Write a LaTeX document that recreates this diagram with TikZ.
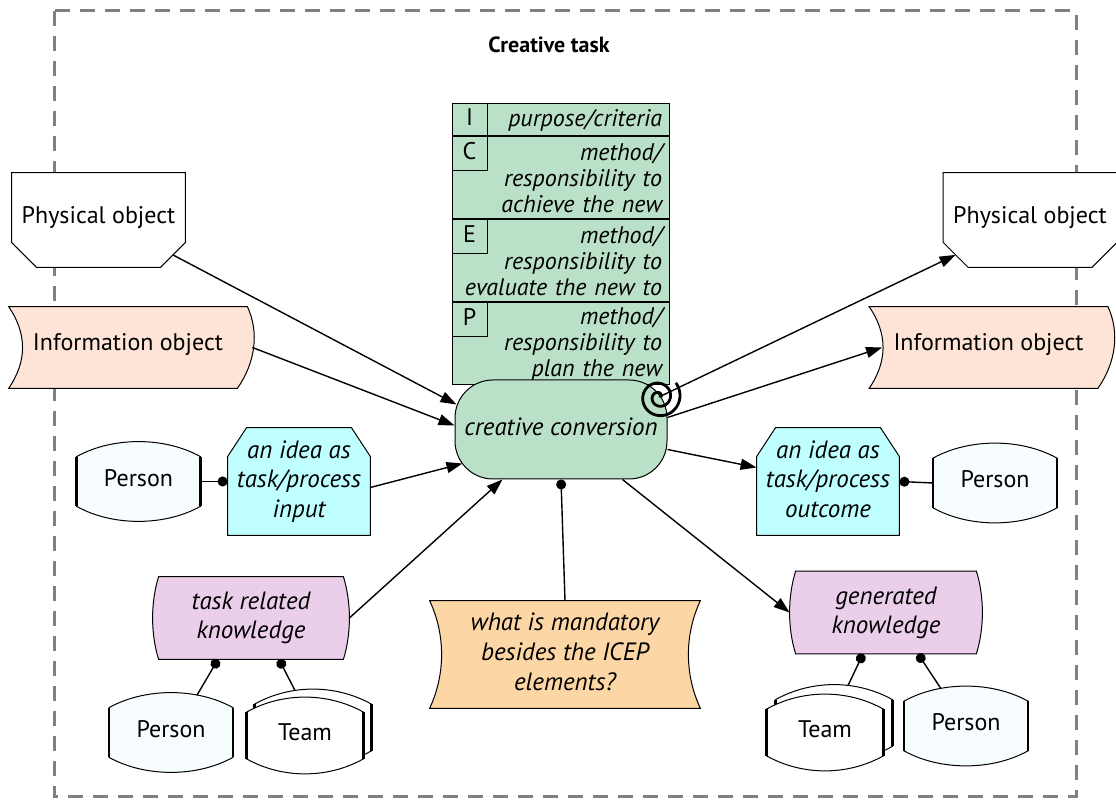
\documentclass[tikz,border=0pt]{standalone}
\usepackage{fontspec}
\setmainfont{PT Sans}
\usetikzlibrary{positioning,calc,arrows.meta,backgrounds}

\definecolor{icepgreen}{RGB}{186,224,199}
\definecolor{infofill}{RGB}{253,228,214}
\definecolor{ideafill}{RGB}{191,255,255}
\definecolor{knowfill}{RGB}{234,206,234}
\definecolor{goalfill}{RGB}{253,214,166}
\definecolor{personfill}{RGB}{247,252,255}
\definecolor{framegray}{RGB}{128,128,128}

% outlines, built from the anchors of a plain rectangular node
\newcommand\physobj[1]{%
  \filldraw[outline, fill=white] (#1.north west) -- (#1.north east)
    -- ([yshift=12.5pt]#1.south east) -- ([xshift=-12.5pt]#1.south east)
    -- ([xshift=12.5pt]#1.south west) -- ([yshift=12.5pt]#1.south west) -- cycle;}
\newcommand\ideaobj[1]{%
  \filldraw[outline, fill=ideafill] (#1.south west) -- ([yshift=-14.5pt]#1.north west)
    -- ([xshift=9.5pt]#1.north west) -- ([xshift=-9.5pt]#1.north east)
    -- ([yshift=-14.5pt]#1.north east) -- (#1.south east) -- cycle;}
\newcommand\infoobj[1]{%
  \filldraw[outline, fill=infofill] (#1.north west) -- (#1.north east)
    .. controls +(6pt,-13pt) and +(9pt,13pt) .. ([xshift=-5pt]#1.south east)
    -- (#1.south west)
    .. controls +(9.3pt,13.5pt) and +(9.3pt,-13.5pt) .. (#1.north west) -- cycle;}
\newcommand\knowobj[1]{%
  \filldraw[outline, fill=knowfill] (#1.north west) -- (#1.north east)
    .. controls +(4pt,-13pt) and +(4pt,13pt) .. (#1.south east)
    -- (#1.south west)
    .. controls +(-4pt,13pt) and +(-4pt,-13pt) .. (#1.north west) -- cycle;}
\newcommand\goalobj[1]{%
  \filldraw[outline, fill=goalfill] (#1.north west) -- (#1.north east)
    .. controls +(-8pt,-17pt) and +(-8pt,17pt) .. (#1.south east)
    -- (#1.south west)
    .. controls +(8pt,17pt) and +(8pt,-17pt) .. (#1.north west) -- cycle;}
\newcommand\personobj[2]{%
  \filldraw[outline, fill=#2] ([yshift=-7.5pt]#1.north west)
    .. controls +(18pt,10pt) and +(-18pt,10pt) .. ([yshift=-7.5pt]#1.north east)
    -- ([yshift=7.5pt]#1.south east)
    .. controls +(-18pt,-10pt) and +(18pt,-10pt) .. ([yshift=7.5pt]#1.south west) -- cycle;
  \draw[line width=1.2pt] ([yshift=-7.5pt]#1.north west) -- ([yshift=7.5pt]#1.south west)
    ([yshift=-7.5pt]#1.north east) -- ([yshift=7.5pt]#1.south east);}

\begin{document}
\begin{tikzpicture}[
    x=0.5pt, y=-0.5pt,
    outline/.style={draw, line width=0.5pt},
    base/.style={inner sep=0pt, align=center, font=\fontsize{12}{14.5}\selectfont},
    physbox/.style={base, minimum width=86.5pt, minimum height=47pt, text depth=5pt},
    infobox/.style={base, minimum width=119pt, minimum height=40.5pt, text depth=5.5pt},
    ideabox/.style={base, font=\fontsize{12.5}{14.75}\selectfont\itshape, minimum width=71pt, minimum height=53.5pt, text depth=2.6pt},
    knowbox/.style={base, font=\fontsize{12.5}{14.5}\selectfont\itshape, minimum width=90pt, minimum height=41pt},
    goalbox/.style={base, font=\fontsize{12.5}{15}\selectfont\itshape, minimum width=135pt, minimum height=53.5pt, text depth=2.6pt},
    personbox/.style={base, minimum width=61.5pt, minimum height=39.5pt, text depth=3.5pt},
    teambox/.style={base, minimum width=58pt, minimum height=38pt, text depth=3pt},
    iceprow/.style={outline, fill=icepgreen, font=\fontsize{12}{13}\selectfont\itshape, align=right,
      text width=101.5pt, inner xsep=3.5pt, inner ysep=1.5pt, minimum height=41pt},
    icepkey/.style={outline, anchor=north west, inner sep=0pt, minimum width=17.5pt, minimum height=17pt,
      text depth=3pt, font=\fontsize{12}{13}\selectfont},
    conv/.style={outline, fill=icepgreen, rounded corners=19pt, base, font=\fontsize{12.5}{14}\selectfont\itshape,
      minimum width=106pt, minimum height=49.5pt, text depth=2.5pt},
    flow/.style={draw, line width=0.7pt, -{Triangle[length=8pt,width=5.5pt]}},
    link/.style={draw, line width=0.7pt, -{Circle[length=5pt]}}
  ]
    \useasboundingbox (0,0) rectangle (1116,801);

    % Title and objects
    \node[base, font=\fontsize{11}{13}\selectfont\bfseries] (title) at (549,45) {Creative task};
    \node[physbox] (phyL) at (98.5,220) {Physical object};
    \node[physbox] (phyR) at (1030,220) {Physical object};
    \node[infobox] (infL) at (128,347.5) {Information object};
    \node[infobox] (infR) at (988.5,347.5) {Information object};

    % ICEP stack
    \node[iceprow, minimum height=16pt] (rowI) at (560.5,120) {purpose/criteria};
    \node[iceprow, below=0pt of rowI] (rowC) {method/\\responsibility to\\achieve the new};
    \node[iceprow, below=0pt of rowC] (rowE) {method/\\responsibility to\\evaluate the new to};
    \node[iceprow, below=0pt of rowE] (rowP) {method/\\responsibility to\\plan the new};
    \node[icepkey, minimum height=16pt] (keyI) at (rowI.north west) {I};
    \node[icepkey] (keyC) at (rowC.north west) {C};
    \node[icepkey] (keyE) at (rowE.north west) {E};
    \node[icepkey] (keyP) at (rowP.north west) {P};

    % Conversion
    \node[conv] (crea) at (561,429.5) {creative conversion};
    \coordinate (spir) at (659,397);
    \begin{scope}[shift={(spir)}, x=1pt, y=1pt]
      \draw[line width=1.4pt] plot[domain=0:760, samples=110, smooth] (\x:{1+\x/76});
    \end{scope}

    % Ideas, knowledge and carriers
    \node[ideabox] (ideaIn) at (299,481.5) {an idea as\\task/process\\input};
    \node[ideabox] (ideaOut) at (828,481.5) {an idea as\\task/process\\outcome};
    \node[personbox] (perL) at (138.5,481.5) {Person};
    \node[personbox] (perR) at (995,483) {Person};
    \node[knowbox, minimum width=92pt] (tkn) at (251,618) {task related\\knowledge};
    \node[knowbox] (gkn) at (886,612.5) {generated\\knowledge};
    \node[goalbox] (mand) at (565,654.5) {what is mandatory\\besides the ICEP\\elements?};
    \node[personbox] (perBL) at (171,732.5) {Person};
    \node[teambox] (tmLb) at (313,727.5) {};
    \node[teambox] (tmL) at (305,735.5) {Team};
    \node[teambox] (tmRb) at (834,723) {};
    \node[teambox] (tmR) at (825,732.5) {Team};
    \node[personbox] (perBR) at (966,726) {Person};

    \begin{scope}[on background layer]
      \draw[framegray, line width=1.5pt, dash pattern=on 7.5pt off 5pt] (54,11) rectangle (1076,797);
      \physobj{phyL} \physobj{phyR}
      \infoobj{infL} \infoobj{infR}
      \ideaobj{ideaIn} \ideaobj{ideaOut}
      \knowobj{tkn} \knowobj{gkn}
      \goalobj{mand}
      \personobj{perL}{personfill} \personobj{perR}{personfill}
      \personobj{perBL}{personfill} \personobj{perBR}{personfill}
      \personobj{tmLb}{white} \personobj{tmL}{white}
      \personobj{tmRb}{white} \personobj{tmR}{white}
    \end{scope}

    % Flows into the conversion
    \draw[flow] ([xshift=-6.25pt,yshift=6.25pt]phyL.south east) -- ([xshift=1pt,yshift=-12.5pt]crea.north west);
    \draw[flow] ([xshift=2.5pt]infL.east) -- ([yshift=2pt]crea.west);
    \draw[flow] ([yshift=-3pt]ideaIn.east) -- ([xshift=4pt,yshift=8pt]crea.south west);
    \draw[flow] ([xshift=3pt]tkn.east) -- ([xshift=24pt]crea.south west);
    % Flows out of it
    \draw[flow] (spir) -- ([xshift=6.25pt,yshift=6.25pt]phyR.south west);
    \draw[flow] ([yshift=6pt]crea.east) -- ([xshift=6.5pt]infR.west);
    \draw[flow] ([yshift=-10pt]crea.east) -- ([yshift=7pt]ideaOut.west);
    \draw[flow] ([xshift=-22.5pt]crea.south east) -- ([xshift=-3pt]gkn.west);
    % Links
    \draw[link] (perL.east) -- (ideaIn.west);
    \draw[link] (perR.west) -- (ideaOut.east);
    \draw[link] (mand.north) -- (crea.south);
    \draw[link] ([xshift=13pt,yshift=-1.3pt]perBL.north) -- ([xshift=-16.5pt]tkn.south);
    \draw[link] ([xshift=-9pt,yshift=-0.7pt]tmLb.north) -- ([xshift=14pt]tkn.south);
    \draw[link] ([xshift=7pt,yshift=-0.5pt]tmRb.north) -- ([xshift=-11.5pt]gkn.south);
    \draw[link] ([xshift=-12.5pt,yshift=-1.3pt]perBR.north) -- ([xshift=16pt]gkn.south);
\end{tikzpicture}
\end{document}
